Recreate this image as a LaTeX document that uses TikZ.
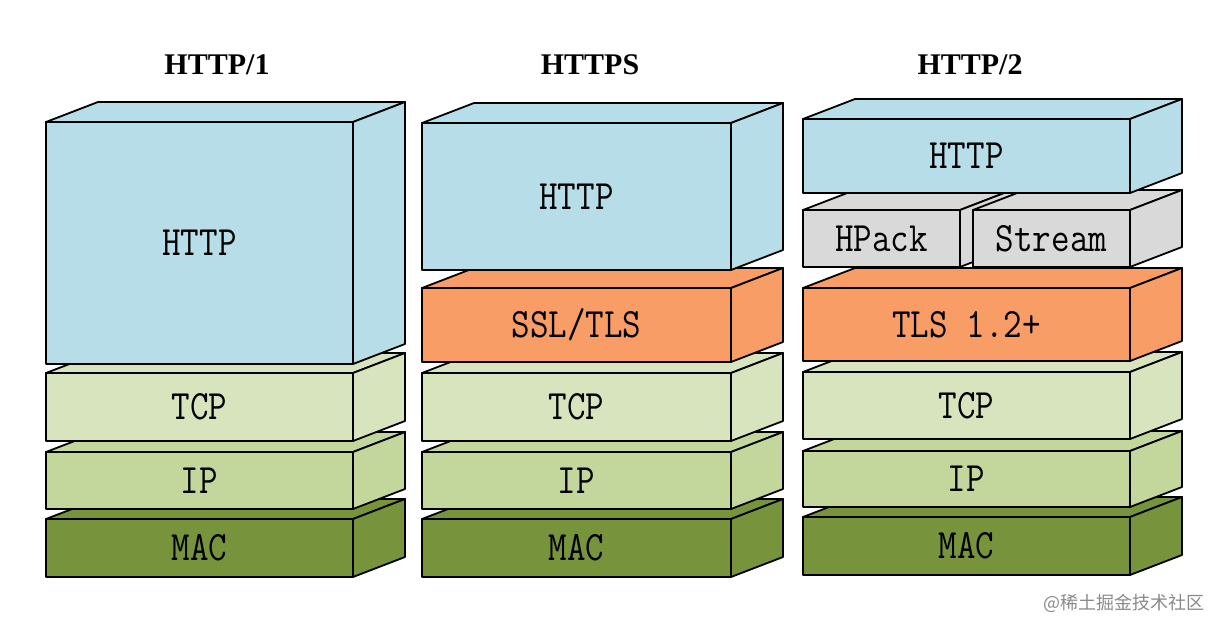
\documentclass[tikz,border=0pt]{standalone}
\usepackage{fontspec}
\setmainfont{Liberation Serif}
\newfontfamily\cjkfont{Noto Sans CJK SC}
\definecolor{httpblue}{HTML}{B7DDE8}
\definecolor{tlsorange}{HTML}{F99D66}
\definecolor{tcpgreen}{HTML}{D7E4BD}
\definecolor{ipgreen}{HTML}{C3D69B}
\definecolor{macgreen}{HTML}{77933C}
\definecolor{hgray}{HTML}{D9D9D9}
\definecolor{wmgray}{HTML}{8A8A8A}
\tikzset{
  face/.style={draw=black, line width=1.8pt, line join=round},
  front/.style={face, rectangle, inner sep=0pt, outer sep=0pt, text=black,
    font=\fontsize{36}{36}\selectfont\ttfamily},
  title/.style={font=\fontsize{30}{30}\selectfont\bfseries, text=black},
}
% name, x1, y1, x2, y2, colour, label
\newcommand\layerbox[7]{%
  \filldraw[face, fill=#6] (#2,#3) -- (#2+52,#3-20) -- (#4+52,#3-20) -- (#4,#3) -- cycle;
  \filldraw[face, fill=#6] (#4,#3) -- (#4+52,#3-20) -- (#4+52,#5-20) -- (#4,#5) -- cycle;
  \node[front, fill=#6, minimum width=#4-#2, minimum height=#5-#3]
    (#1) at ({(#2+#4)/2},{(#3+#5)/2}) {\scalebox{1}[1.16]{#7}};
}
\begin{document}
\begin{tikzpicture}[x=1pt, y=-1pt]
\useasboundingbox[fill=white] (0,0) rectangle (1227,632);
% titles
\node[title] (t1) at (217,65) {HTTP/1};
\node[title] (t2) at (590,65) {HTTPS};
\node[title] (t3) at (970,65) {HTTP/2};
% column 1
\layerbox{amac}{46}{519}{353}{577}{macgreen}{MAC}
\layerbox{aip}{46}{452}{353}{509}{ipgreen}{IP}
\layerbox{atcp}{46}{373}{353}{441}{tcpgreen}{TCP}
\layerbox{ahttp}{46}{122}{353}{364}{httpblue}{HTTP}
% column 2
\layerbox{bmac}{422}{519}{731}{577}{macgreen}{MAC}
\layerbox{bip}{422}{452}{731}{509}{ipgreen}{IP}
\layerbox{btcp}{422}{373}{731}{441}{tcpgreen}{TCP}
\layerbox{bssl}{422}{288}{731}{362}{tlsorange}{SSL/TLS}
\layerbox{bhttp}{422}{123}{731}{270}{httpblue}{HTTP}
% column 3
\layerbox{cmac}{803}{517}{1130}{575}{macgreen}{MAC}
\layerbox{cip}{803}{451}{1130}{507}{ipgreen}{IP}
\layerbox{ctcp}{803}{372}{1130}{439}{tcpgreen}{TCP}
\layerbox{ctls}{803}{288}{1130}{361}{tlsorange}{TLS 1.2+}
\layerbox{chpack}{803}{210}{960}{267}{hgray}{HPack}
\layerbox{cstream}{973}{210}{1130}{267}{hgray}{Stream}
\layerbox{chttp}{803}{119}{1130}{193}{httpblue}{HTTP}
% watermark
\node[anchor=east, text=wmgray, font=\fontsize{18}{18}\selectfont\cjkfont] (wm) at (1208,603) {@稀土掘金技术社区};
\end{tikzpicture}
\end{document}
